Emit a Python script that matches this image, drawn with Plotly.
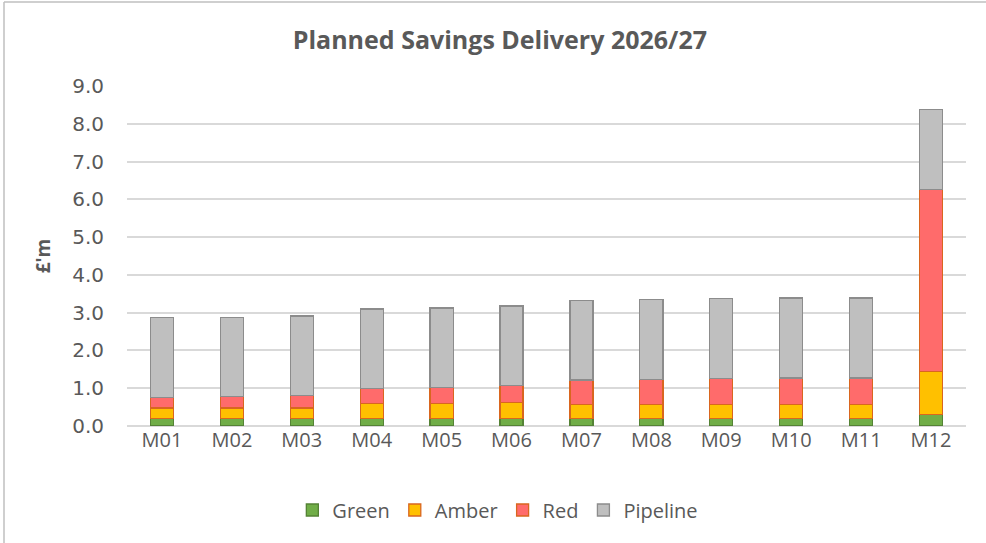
import plotly.graph_objects as go

months = ["M01", "M02", "M03", "M04", "M05", "M06", "M07", "M08", "M09", "M10", "M11", "M12"]
green = [0.20, 0.20, 0.20, 0.20, 0.20, 0.20, 0.20, 0.20, 0.20, 0.20, 0.20, 0.31]
amber = [0.28, 0.28, 0.28, 0.40, 0.40, 0.42, 0.37, 0.37, 0.37, 0.37, 0.37, 1.13]
red = [0.28, 0.30, 0.32, 0.39, 0.41, 0.45, 0.65, 0.67, 0.68, 0.70, 0.70, 4.82]
pipeline = [2.11, 2.10, 2.11, 2.11, 2.11, 2.11, 2.10, 2.10, 2.12, 2.12, 2.12, 2.12]
y_ticks = [0, 1, 2, 3, 4, 5, 6, 7, 8, 9]

series = [
    ("Green", green, "#70AD47", "#548235"),
    ("Amber", amber, "#FFC000", "#D9661F"),
    ("Red", red, "#FF6B6B", "#D9661F"),
    ("Pipeline", pipeline, "#BFBFBF", "#8C8C8C"),
]

FONT = "'Open Sans', sans-serif"
YFONT = "'DejaVu Sans', sans-serif"
TXT = "#595959"

fig = go.Figure()
for name, vals, fill, edge in series:
    fig.add_trace(go.Bar(
        x=months, y=vals, name=name,
        marker=dict(color=fill, line=dict(color=edge, width=1.3)),
        hoverinfo="x+y+name",
    ))

L, R, T, B = 127, 20, 86, 117
PW, PH = 986 - L - R, 543 - T - B

fig.update_layout(
    barmode="stack",
    bargap=0.67,
    width=986, height=543,
    paper_bgcolor="white", plot_bgcolor="white",
    margin=dict(l=L, r=R, t=T, b=B),
    font=dict(family=FONT, color=TXT, size=19),
    title=dict(text="<b>Planned Savings Delivery 2026/27</b>", x=0.507, xanchor="center",
               y=1 - 40 / 543, yanchor="middle", font=dict(size=25, color=TXT, family=FONT)),
    xaxis=dict(showgrid=False, showline=False, ticks="", tickfont=dict(size=20, color=TXT, family=FONT)),
    yaxis=dict(range=[0, 9], tickvals=y_ticks, tickformat=".1f",
               showgrid=True, gridcolor="#D9D9D9", gridwidth=1.5, zeroline=True,
               zerolinecolor="#D9D9D9", zerolinewidth=1.5, showline=False,
               ticklabelstandoff=22, tickfont=dict(size=20, color=TXT, family=YFONT),
               title=dict(text="<b>£'m</b>", standoff=16, font=dict(size=19, color=TXT, family=FONT))),
    legend=dict(orientation="h", x=0.442, xanchor="center", y=(426 - 510) / PH, yanchor="middle",
                font=dict(size=20, color=TXT, family=FONT), itemwidth=30, traceorder="normal"),
    shapes=[
        dict(type="line", xref="paper", yref="paper", x0=-(L - 4) / PW, x1=1 + R / PW,
             y0=1 + (T - 2) / PH, y1=1 + (T - 2) / PH, line=dict(color="#BFBFBF", width=1.5)),
        dict(type="line", xref="paper", yref="paper", x0=-(L - 4) / PW, x1=-(L - 4) / PW,
             y0=-B / PH, y1=1 + (T - 2) / PH, line=dict(color="#BFBFBF", width=1.5)),
    ],
)

fig.write_html("out.html", config={"displayModeBar": False},
               post_script="document.body.style.margin='0';")
